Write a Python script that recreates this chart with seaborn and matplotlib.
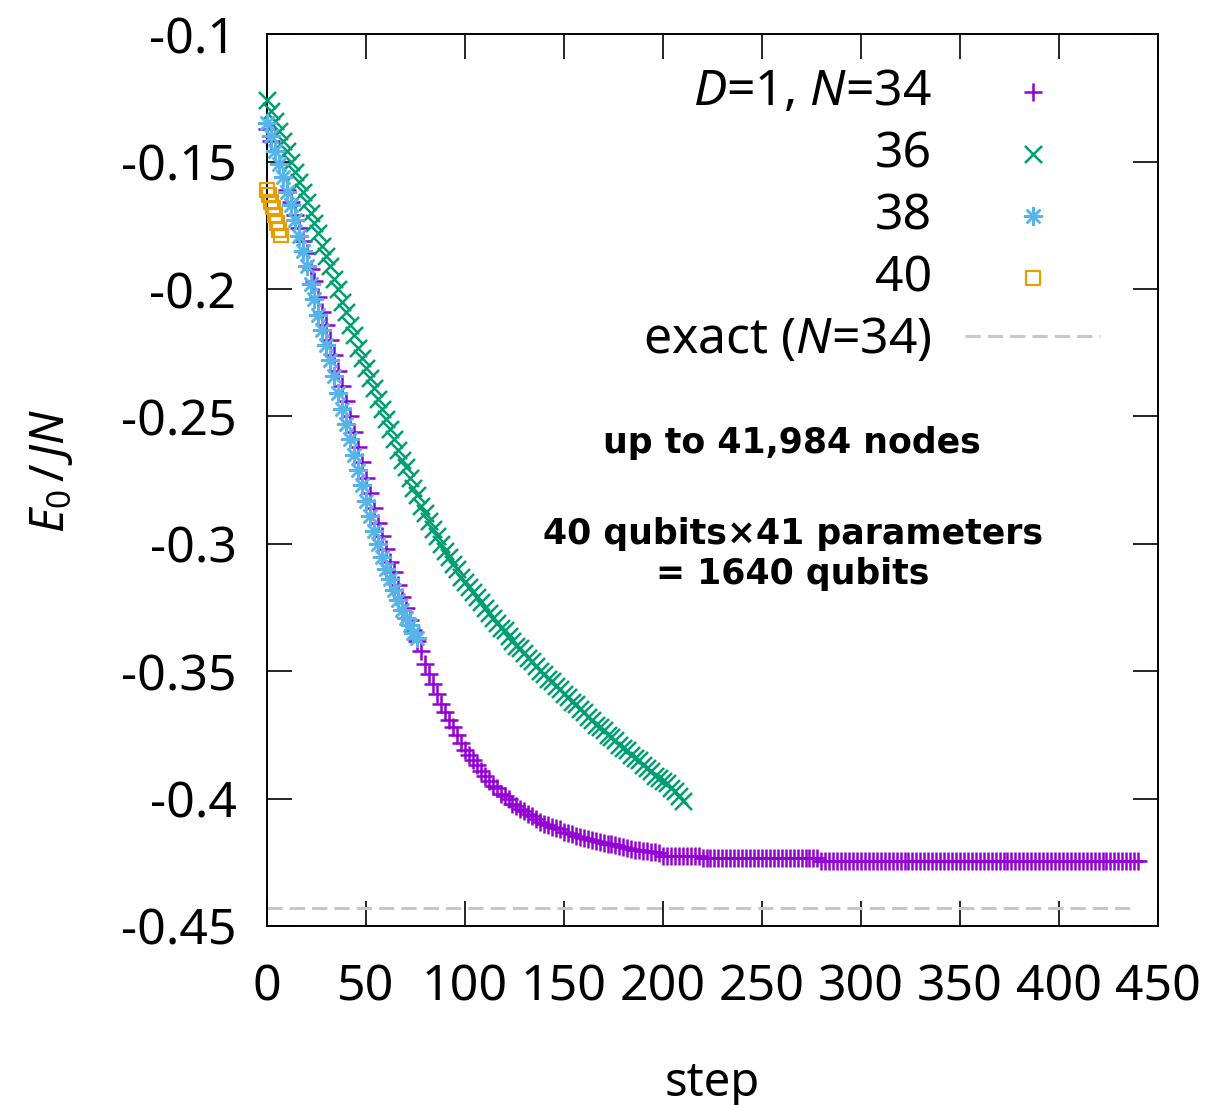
import numpy as np
import pandas as pd
import matplotlib
matplotlib.use("Agg")
import matplotlib.pyplot as plt
import seaborn as sns

# energy per site vs optimisation step, every 2 steps
step_34 = np.arange(0, 441, 2)
e_34 = [
    -0.137, -0.142, -0.146, -0.151, -0.156, -0.161, -0.166, -0.171, -0.176, -0.181,
    -0.186, -0.192, -0.197, -0.203, -0.209, -0.214, -0.220, -0.226, -0.232, -0.238,
    -0.244, -0.250, -0.256, -0.262, -0.268, -0.274, -0.280, -0.286, -0.292, -0.297,
    -0.302, -0.307, -0.311, -0.316, -0.321, -0.325, -0.330, -0.334, -0.338, -0.342,
    -0.347, -0.351, -0.355, -0.359, -0.363, -0.366, -0.369, -0.372, -0.375, -0.378,
    -0.381, -0.383, -0.385, -0.387, -0.389, -0.391, -0.393, -0.395, -0.396, -0.398,
    -0.399, -0.400, -0.402, -0.403, -0.404, -0.405, -0.406, -0.407, -0.408, -0.409,
    -0.410, -0.4105, -0.411, -0.4115, -0.412, -0.413, -0.4135, -0.414, -0.4145, -0.415,
    -0.4155, -0.416, -0.4163, -0.4167, -0.417, -0.4173, -0.4177, -0.418, -0.4183, -0.4187,
    -0.419, -0.4193, -0.4197, -0.420, -0.4202, -0.4204, -0.4206, -0.4208, -0.421, -0.4212,
    -0.4225, -0.4225, -0.4225, -0.4225, -0.4225, -0.4225, -0.4225, -0.4225, -0.4225, -0.4225,
    -0.4233, -0.4233, -0.4233, -0.4233, -0.4233, -0.4233, -0.4233, -0.4233, -0.4233, -0.4233,
    -0.4233, -0.4233, -0.4233, -0.4233, -0.4233, -0.4233, -0.4233, -0.4233, -0.4233, -0.4233,
    -0.4233, -0.4233, -0.4233, -0.4233, -0.4233, -0.4233, -0.4233, -0.4233, -0.4233, -0.4233,
    -0.4244, -0.4244, -0.4244, -0.4244, -0.4244, -0.4244, -0.4244, -0.4244, -0.4244, -0.4244,
    -0.4244, -0.4244, -0.4244, -0.4244, -0.4244, -0.4244, -0.4244, -0.4244, -0.4244, -0.4244,
    -0.4244, -0.4244, -0.4244, -0.4244, -0.4244, -0.4244, -0.4244, -0.4244, -0.4244, -0.4244,
    -0.4244, -0.4244, -0.4244, -0.4244, -0.4244, -0.4244, -0.4244, -0.4244, -0.4244, -0.4244,
    -0.4244, -0.4244, -0.4244, -0.4244, -0.4244, -0.4244, -0.4244, -0.4244, -0.4244, -0.4244,
    -0.4244, -0.4244, -0.4244, -0.4244, -0.4244, -0.4244, -0.4244, -0.4244, -0.4244, -0.4244,
    -0.4244, -0.4244, -0.4244, -0.4244, -0.4244, -0.4244, -0.4244, -0.4244, -0.4244, -0.4244,
    -0.4244, -0.4244, -0.4244, -0.4244, -0.4244, -0.4244, -0.4244, -0.4244, -0.4244, -0.4244,
    -0.4244,
]

step_36 = np.arange(0, 211, 2)
e_36 = [
    -0.126, -0.130, -0.134, -0.138, -0.142, -0.146, -0.150, -0.154, -0.158, -0.162,
    -0.166, -0.170, -0.174, -0.178, -0.183, -0.187, -0.191, -0.196, -0.200, -0.205,
    -0.209, -0.214, -0.218, -0.223, -0.227, -0.231, -0.235, -0.239, -0.243, -0.247,
    -0.251, -0.255, -0.259, -0.263, -0.267, -0.270, -0.274, -0.278, -0.281, -0.285,
    -0.288, -0.291, -0.294, -0.297, -0.300, -0.303, -0.305, -0.308, -0.310, -0.313,
    -0.315, -0.317, -0.319, -0.321, -0.323, -0.325, -0.327, -0.329, -0.331, -0.333,
    -0.334, -0.336, -0.338, -0.340, -0.341, -0.343, -0.345, -0.346, -0.348, -0.350,
    -0.351, -0.353, -0.354, -0.356, -0.357, -0.359, -0.360, -0.362, -0.363, -0.365,
    -0.366, -0.368, -0.369, -0.371, -0.372, -0.373, -0.375, -0.376, -0.377, -0.379,
    -0.380, -0.381, -0.383, -0.384, -0.385, -0.387, -0.388, -0.389, -0.391, -0.392,
    -0.393, -0.394, -0.396, -0.397, -0.399, -0.401,
]

step_38 = np.arange(0, 77, 2)
e_38 = [
    -0.135, -0.140, -0.146, -0.151, -0.156, -0.162, -0.167, -0.173, -0.179, -0.185,
    -0.191, -0.198, -0.204, -0.210, -0.216, -0.222, -0.228, -0.234, -0.241, -0.247,
    -0.253, -0.259, -0.265, -0.271, -0.277, -0.283, -0.289, -0.295, -0.300, -0.305,
    -0.310, -0.314, -0.318, -0.322, -0.326, -0.329, -0.332, -0.335, -0.337,
]

step_40 = np.arange(0, 8)
e_40 = [-0.161, -0.163, -0.166, -0.168, -0.171, -0.174, -0.177, -0.179]

exact_step = [0, 438]
exact_34 = [-0.443, -0.443]

labels = [r"$D$=1, $N$=34", "36", "38", "40", r"exact ($N$=34)"]
colors = ["#9400d3", "#009e73", "#56b4e9", "#e69f00"]
markers = ["+", "x", (8, 2, 0), "s"]

xticks = [0, 50, 100, 150, 200, 250, 300, 350, 400, 450]
yticks = [-0.1, -0.15, -0.2, -0.25, -0.3, -0.35, -0.4, -0.45]
ytick_labels = ["-0.1", "-0.15", "-0.2", "-0.25", "-0.3", "-0.35", "-0.4", "-0.45"]

sns.set_style("ticks")
plt.rcParams["font.family"] = ["Noto Sans", "DejaVu Sans"]
plt.rcParams["mathtext.fontset"] = "custom"
plt.rcParams["mathtext.rm"] = "Noto Sans"
plt.rcParams["mathtext.it"] = "Noto Sans:italic"
plt.rcParams["axes.unicode_minus"] = False
for key in ["text.color", "axes.labelcolor", "xtick.color", "ytick.color"]:
    plt.rcParams[key] = "black"

fig = plt.figure(figsize=(12.09, 11.05), dpi=100)
ax = fig.add_axes([0.2208, 0.162, 0.737, 0.807])

runs = [(step_34, e_34), (step_36, e_36), (step_38, e_38), (step_40, e_40)]
for i, (st, en) in enumerate(runs):
    df = pd.DataFrame({"step": st, "energy": en})
    if markers[i] == "s":
        sns.scatterplot(data=df, x="step", y="energy", ax=ax, marker="s", s=100,
                        color=colors[i], facecolor="none", edgecolor=colors[i],
                        linewidth=1.6, label=labels[i], clip_on=False, zorder=3 + i)
    else:
        sns.scatterplot(data=df, x="step", y="energy", ax=ax, marker=markers[i], s=150,
                        color=colors[i], linewidth=1.8, label=labels[i],
                        clip_on=False, zorder=3 + i)

sns.lineplot(x=exact_step, y=exact_34, ax=ax, color="#c8c8c8", linewidth=2.2,
             linestyle=(0, (5, 2.3)), label=labels[4], zorder=2)

ax.set_xlim(0, 450)
ax.set_ylim(-0.45, -0.1)
ax.set_xticks(xticks)
ax.set_xticklabels([str(t) for t in xticks])
ax.set_yticks(yticks)
ax.set_yticklabels(ytick_labels)
ax.tick_params(direction="in", length=18, width=1.2, top=True, right=True,
               labelsize=36, color="black")
ax.tick_params(axis="x", pad=26)
ax.tick_params(axis="y", pad=22)
for sp in ax.spines.values():
    sp.set_linewidth(1.4)
    sp.set_color("black")

ax.set_xlabel("step", fontsize=34)
ax.set_ylabel(r"$E_0\,/\,JN$", fontsize=34)
ax.xaxis.set_label_coords(0.5, -0.15)
ax.yaxis.set_label_coords(-0.215, 0.51)

handles, labs = ax.get_legend_handles_labels()
leg = ax.legend(handles, labs, loc="upper right", bbox_to_anchor=(0.935, 0.963),
                markerfirst=False, frameon=False, fontsize=36, handlelength=2.7,
                handletextpad=0.66, labelspacing=0.24, borderpad=0, borderaxespad=0,
                scatterpoints=1)

ax.text(0.589, 0.5415, "up to 41,984 nodes", transform=ax.transAxes, ha="center",
        va="center", fontsize=25, fontweight="bold", family="DejaVu Sans")
ax.text(0.59, 0.417, "40 qubits×41 parameters\n= 1640 qubits", transform=ax.transAxes,
        ha="center", va="center", fontsize=25, fontweight="bold", family="DejaVu Sans",
        linespacing=1.2)

fig.savefig("out.png", dpi=100)
